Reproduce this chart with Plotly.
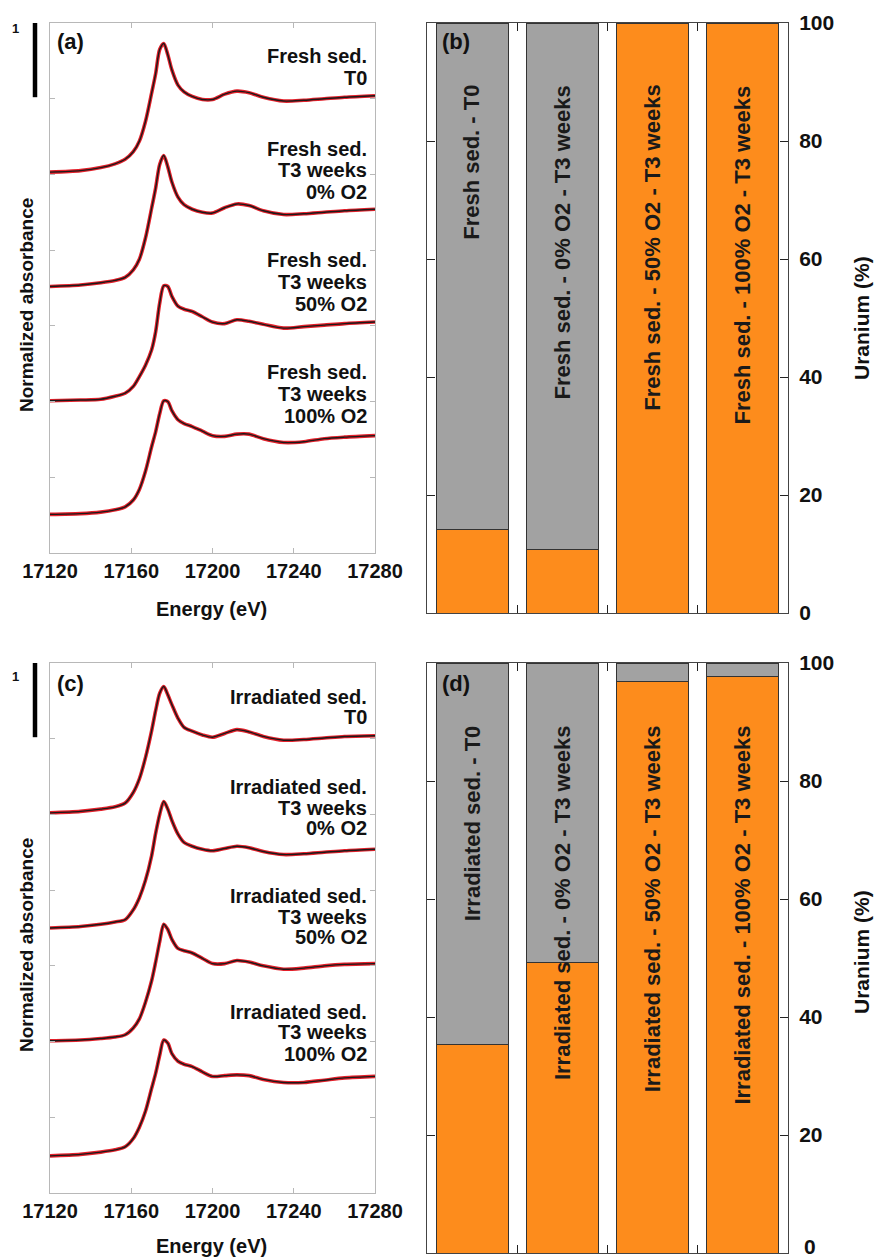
import plotly.graph_objects as go

W, H = 877, 1258
FONT = "Liberation Sans, Arial, Helvetica, sans-serif"

# ---------------- XANES data (normalized) ----------------
energy = [17120, 17135, 17145, 17152, 17157, 17161, 17164, 17167, 17170, 17172,
          17174, 17176, 17178, 17180, 17183, 17186, 17190, 17195, 17200, 17206,
          17212, 17218, 17225, 17235, 17245, 17255, 17265, 17280]

fresh_t0 = [0.03, 0.05, 0.09, 0.14, 0.20, 0.30, 0.44, 0.70, 1.07, 1.33,
            1.65, 1.73, 1.58, 1.38, 1.18, 1.09, 1.03, 0.99, 0.99, 1.06,
            1.10, 1.08, 1.02, 0.97, 0.98, 1.00, 1.02, 1.04]
fresh_0 = [0.02, 0.04, 0.07, 0.10, 0.14, 0.24, 0.38, 0.66, 1.05, 1.32,
           1.63, 1.75, 1.60, 1.40, 1.20, 1.10, 1.04, 1.00, 0.99, 1.06,
           1.11, 1.09, 1.02, 0.97, 0.98, 1.00, 1.02, 1.04]
fresh_50 = [0.01, 0.02, 0.03, 0.07, 0.11, 0.20, 0.33, 0.48, 0.68, 0.92,
            1.30, 1.53, 1.52, 1.39, 1.26, 1.22, 1.19, 1.12, 1.05, 1.03,
            1.08, 1.06, 1.02, 0.97, 0.99, 1.01, 1.03, 1.05]
fresh_100 = [0.01, 0.02, 0.04, 0.07, 0.11, 0.20, 0.34, 0.58, 0.90, 1.10,
             1.34, 1.51, 1.50, 1.38, 1.26, 1.21, 1.17, 1.11, 1.05, 1.04,
             1.07, 1.07, 1.01, 0.96, 0.97, 1.01, 1.03, 1.05]

irr_t0 = [0.02, 0.04, 0.07, 0.10, 0.15, 0.29, 0.47, 0.75, 1.10, 1.37,
          1.60, 1.69, 1.58, 1.45, 1.27, 1.15, 1.10, 1.05, 1.02, 1.07,
          1.12, 1.09, 1.03, 0.98, 0.99, 1.01, 1.03, 1.04]
irr_0 = [0.00, 0.02, 0.05, 0.08, 0.11, 0.24, 0.40, 0.63, 0.95, 1.25,
         1.50, 1.67, 1.57, 1.42, 1.24, 1.13, 1.08, 1.04, 1.02, 1.05,
         1.08, 1.06, 1.01, 0.97, 0.98, 1.00, 1.02, 1.04]
irr_50 = [0.01, 0.02, 0.04, 0.06, 0.09, 0.18, 0.30, 0.52, 0.80, 1.05,
          1.32, 1.55, 1.48, 1.35, 1.23, 1.20, 1.17, 1.10, 1.03, 1.03,
          1.07, 1.05, 1.00, 0.955, 0.97, 1.00, 1.02, 1.03]
irr_100 = [-0.01, 0.01, 0.04, 0.07, 0.11, 0.22, 0.37, 0.58, 0.88, 1.08,
           1.32, 1.52, 1.48, 1.34, 1.24, 1.20, 1.17, 1.10, 1.04, 1.05,
           1.06, 1.05, 1.00, 0.96, 0.96, 0.99, 1.02, 1.04]

spectrum_offsets = [5.0, 3.5, 2.0, 0.5]
energy_ticks = [17120, 17160, 17200, 17240, 17280]
energy_tick_labels = ["17120", "17160", "17200", "17240", "17280"]

fresh_labels = [["Fresh sed.", "T0"],
                ["Fresh sed.", "T3 weeks", "0% O2"],
                ["Fresh sed.", "T3 weeks", "50% O2"],
                ["Fresh sed.", "T3 weeks", "100% O2"]]
irr_labels = [["Irradiated sed.", "T0"],
              ["Irradiated sed.", "T3 weeks", "0% O2"],
              ["Irradiated sed.", "T3 weeks", "50% O2"],
              ["Irradiated sed.", "T3 weeks", "100% O2"]]

# ---------------- LCF bar data (Uranium %) ----------------
fresh_categories = ["Fresh sed. - T0", "Fresh sed. - 0% O2 - T3 weeks",
                    "Fresh sed. - 50% O2 - T3 weeks", "Fresh sed. - 100% O2 - T3 weeks"]
irr_categories = ["Irradiated sed. - T0", "Irradiated sed. - 0% O2 - T3 weeks",
                  "Irradiated sed. - 50% O2 - T3 weeks", "Irradiated sed. - 100% O2 - T3 weeks"]
fresh_orange = [14.2, 10.8, 100.0, 100.0]
fresh_gray = [85.8, 89.2, 0.0, 0.0]
irr_orange = [35.3, 49.2, 96.8, 97.7]
irr_gray = [64.7, 50.8, 3.2, 2.3]
uranium_ticks = [0, 20, 40, 60, 80, 100]
uranium_tick_labels = ["0", "20", "40", "60", "80", "100"]

ORANGE = "#fd8c1c"
GRAY = "#a2a2a2"
RED = "#e3202a"


def px(x):
    return x / W


def py(y):
    return 1 - y / H


fig = go.Figure()

# spectra panels
for spectra, xa, ya in [([fresh_t0, fresh_0, fresh_50, fresh_100], "x", "y"),
                        ([irr_t0, irr_0, irr_50, irr_100], "x3", "y3")]:
    for s, off in zip(spectra, spectrum_offsets):
        yy = [v + off for v in s]
        fig.add_trace(go.Scatter(x=energy, y=yy, mode="lines", xaxis=xa, yaxis=ya,
                                 line=dict(color=RED, width=3.6, shape="spline", smoothing=0.8),
                                 showlegend=False, hoverinfo="skip"))
        fig.add_trace(go.Scatter(x=energy, y=yy, mode="lines", xaxis=xa, yaxis=ya,
                                 line=dict(color="#1a1a1a", width=1.4, shape="spline", smoothing=0.8),
                                 showlegend=False, hoverinfo="skip"))

# bar panels
xs = list(range(4))
for orange, gray, xa, ya in [(fresh_orange, fresh_gray, "x2", "y2"),
                             (irr_orange, irr_gray, "x4", "y4")]:
    fig.add_trace(go.Bar(x=xs, y=orange, xaxis=xa, yaxis=ya, width=0.8,
                         marker=dict(color=ORANGE, line=dict(color="#333333", width=1)),
                         showlegend=False, hoverinfo="skip"))
    fig.add_trace(go.Bar(x=xs, y=gray, xaxis=xa, yaxis=ya, width=0.8,
                         marker=dict(color=GRAY, line=dict(color="#333333", width=1)),
                         showlegend=False, hoverinfo="skip"))

# domains (pixel based)
XA = [px(50), px(375)]
XB = [px(427), px(788)]
YA = [py(553), py(23)]
YB = [py(613), py(23)]
YC = [py(1193), py(663)]
YD = [py(1253), py(663)]

tickfont_x = dict(family=FONT, size=20, color="#111111", weight="bold")
tickfont_r = dict(family=FONT, size=21, color="#111111", weight="bold")
frame_light = "#b8b8b8"


def spec_x(domain, anchor):
    return dict(domain=domain, anchor=anchor, range=[17120, 17280], tickmode="array",
                tickvals=energy_ticks, ticktext=energy_tick_labels, ticks="inside", ticklen=5,
                tickcolor=frame_light, showline=True, linecolor=frame_light, linewidth=1,
                mirror="ticks", showgrid=False, zeroline=False, tickfont=tickfont_x,
                automargin=False, ticklabeloverflow="allow")


def spec_y(domain, anchor):
    return dict(domain=domain, anchor=anchor, range=[0, 7], tickmode="array",
                tickvals=[1, 2, 3, 4, 5, 6], ticks="inside", ticklen=5, tickcolor=frame_light,
                showline=True, linecolor=frame_light, linewidth=1, mirror="ticks",
                showgrid=False, zeroline=False, showticklabels=False, automargin=False)


def bar_x(domain, anchor):
    return dict(domain=domain, anchor=anchor, range=[-0.5, 3.5], tickmode="array",
                tickvals=[0.5, 1.5, 2.5], ticks="inside", ticklen=8, tickcolor="#222222",
                showline=True, linecolor="#444444", linewidth=1, mirror="ticks",
                showgrid=False, zeroline=False, showticklabels=False, automargin=False)


def bar_y(domain, anchor, labels):
    return dict(domain=domain, anchor=anchor, range=[0, 100], side="right", tickmode="array",
                tickvals=uranium_ticks, ticktext=labels, ticks="inside", ticklen=8,
                tickcolor="#222222", showline=True, linecolor="#444444", linewidth=1,
                mirror="ticks", showgrid=False, zeroline=False, tickfont=tickfont_r,
                ticklabelstandoff=6, automargin=False, ticklabeloverflow="allow")


# bottom panel: the "0" label sits at the page edge, so it is drawn as an
# annotation lifted a few pixels to stay fully visible
labels_d = [""] + uranium_tick_labels[1:]

fig.update_layout(
    width=W, height=H, margin=dict(l=0, r=0, t=0, b=0, autoexpand=False),
    paper_bgcolor="white", plot_bgcolor="white", barmode="stack", showlegend=False,
    font=dict(family=FONT, color="#111111"),
    xaxis=spec_x(XA, "y"), yaxis=spec_y(YA, "x"),
    xaxis2=bar_x(XB, "y2"), yaxis2=bar_y(YB, "x2", uranium_tick_labels),
    xaxis3=spec_x(XA, "y3"), yaxis3=spec_y(YC, "x3"),
    xaxis4=bar_x(XB, "y4"), yaxis4=bar_y(YD, "x4", labels_d),
)

ann = []


def text(x, y, s, size, xanchor="center", yanchor="middle", angle=0, weight="bold"):
    ann.append(dict(x=x, y=y, xref="paper", yref="paper", text=s, showarrow=False,
                    xanchor=xanchor, yanchor=yanchor, textangle=angle,
                    font=dict(family=FONT, size=size, color="#111111", weight=weight)))


# sample labels in spectra panels (one annotation per line)
fresh_line_y = [[56, 78], [149, 170, 192], [260, 282, 304], [372, 394, 416]]
irr_line_y = [[697, 717], [787, 808, 828], [896, 917, 937], [1012, 1032, 1054]]
for labels, ys in [(fresh_labels, fresh_line_y), (irr_labels, irr_line_y)]:
    for lines, yl in zip(labels, ys):
        for s, yy in zip(lines, yl):
            text(px(369), py(yy), s, 20, xanchor="right")

# panel letters
text(px(55), py(42), "(a)", 22, xanchor="left")
text(px(440), py(41), "(b)", 22, xanchor="left")
text(px(55), py(683), "(c)", 22, xanchor="left")
text(px(440), py(683), "(d)", 22, xanchor="left")

# axis titles
text(px(211), py(609), "Energy (eV)", 20)
text(px(211), py(1246), "Energy (eV)", 20)
text(px(26), py(305), "Normalized absorbance", 19, angle=-90)
text(px(26), py(945), "Normalized absorbance", 19, angle=-90)
text(px(861), py(318), "Uranium (%)", 21, angle=-90)
text(px(861), py(952), "Uranium (%)", 21, angle=-90)

# "0" of panel (d) right axis
text(px(802), py(1246), uranium_tick_labels[0], 21, xanchor="left")

# scale bar labels
text(px(15), py(29), "1", 13)
text(px(15), py(676), "1", 13)

# bar texts (rotated, inside bars)
for cats, xa, ya in [(fresh_categories, "x2", "y2"), (irr_categories, "x4", "y4")]:
    for i, c in enumerate(cats):
        ann.append(dict(x=xs[i], y=89.8, xref=xa, yref=ya, text=c, showarrow=False,
                        textangle=-90, xanchor="center", yanchor="top",
                        font=dict(family=FONT, size=22, color="#1a1a1a", weight="bold")))

fig.update_layout(annotations=ann)

# scale bars: 1 unit of normalized absorbance
scale_top = 7.0
scale_len = 1.0
for yref in ["y", "y3"]:
    fig.add_shape(type="line", xref="paper", yref=yref, x0=px(35), x1=px(35),
                  y0=scale_top - scale_len * 0.98, y1=scale_top,
                  line=dict(color="black", width=4.5))

fig.write_html("out.html")
